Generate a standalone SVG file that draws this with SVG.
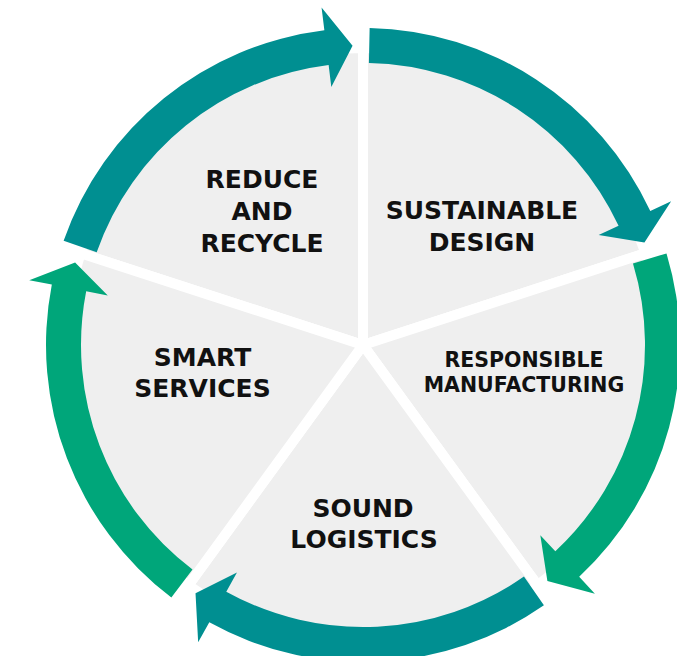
<svg xmlns="http://www.w3.org/2000/svg" xmlns:xlink="http://www.w3.org/1999/xlink" width="677" height="656" viewBox="0 0 677 656">
  <style>
    .sector { fill: #efefef; stroke: #ffffff; stroke-width: 10; stroke-linejoin: round; }
    .lbl { font-family: "DejaVu Sans", "Liberation Sans", sans-serif; font-weight: 700; font-size: 25px; fill: #111111; text-anchor: middle; }
    .lbl-s { font-size: 20.5px; }
    .teal { fill: #008f91; }
    .green { fill: #00a67a; }
  </style>
  <defs>
    <path id="arrow" d="M 369.64 28.07 A 317 317 0 0 1 650.30 211.03 L 671.14 201.31 L 644.44 242.57 L 598.64 235.12 L 618.58 225.82 A 282 282 0 0 0 368.91 63.06 Z"/>
  </defs>
  <rect width="677" height="656" fill="#ffffff"/>

  <g id="reduce-and-recycle">
    <path class="sector" d="M 363 345 L 80.54 253.22 A 297 297 0 0 1 363 48 Z"/>
    <text class="lbl" x="262" y="188">REDUCE</text>
    <text class="lbl" x="262" y="220">AND</text>
    <text class="lbl" x="262" y="252">RECYCLE</text>
  </g>
  <g id="sustainable-design">
    <path class="sector" d="M 363 345 L 363 48 A 297 297 0 0 1 645.46 253.22 Z"/>
    <text class="lbl" x="482" y="219">SUSTAINABLE</text>
    <text class="lbl" x="482" y="251">DESIGN</text>
  </g>
  <g id="responsible-manufacturing">
    <path class="sector" d="M 363 345 L 645.46 253.22 A 297 297 0 0 1 537.57 585.28 Z"/>
    <text class="lbl lbl-s" x="524" y="367">RESPONSIBLE</text>
    <text class="lbl lbl-s" x="524" y="392">MANUFACTURING</text>
  </g>
  <g id="sound-logistics">
    <path class="sector" d="M 363 345 L 537.57 585.28 A 297 297 0 0 1 188.43 585.28 Z"/>
    <text class="lbl" x="363" y="517">SOUND</text>
    <text class="lbl" x="364" y="548">LOGISTICS</text>
  </g>
  <g id="smart-services">
    <path class="sector" d="M 363 345 L 188.43 585.28 A 297 297 0 0 1 80.54 253.22 Z"/>
    <text class="lbl" x="202.5" y="366">SMART</text>
    <text class="lbl" x="202.5" y="397">SERVICES</text>
  </g>

  <g id="connectors">
    <use xlink:href="#arrow" class="teal" transform="rotate(-72 363 345)"/>
    <use xlink:href="#arrow" class="teal"/>
    <use xlink:href="#arrow" class="green" transform="rotate(72 363 345)"/>
    <use xlink:href="#arrow" class="teal" transform="rotate(144 363 345)"/>
    <use xlink:href="#arrow" class="green" transform="rotate(216 363 345)"/>
  </g>
</svg>
